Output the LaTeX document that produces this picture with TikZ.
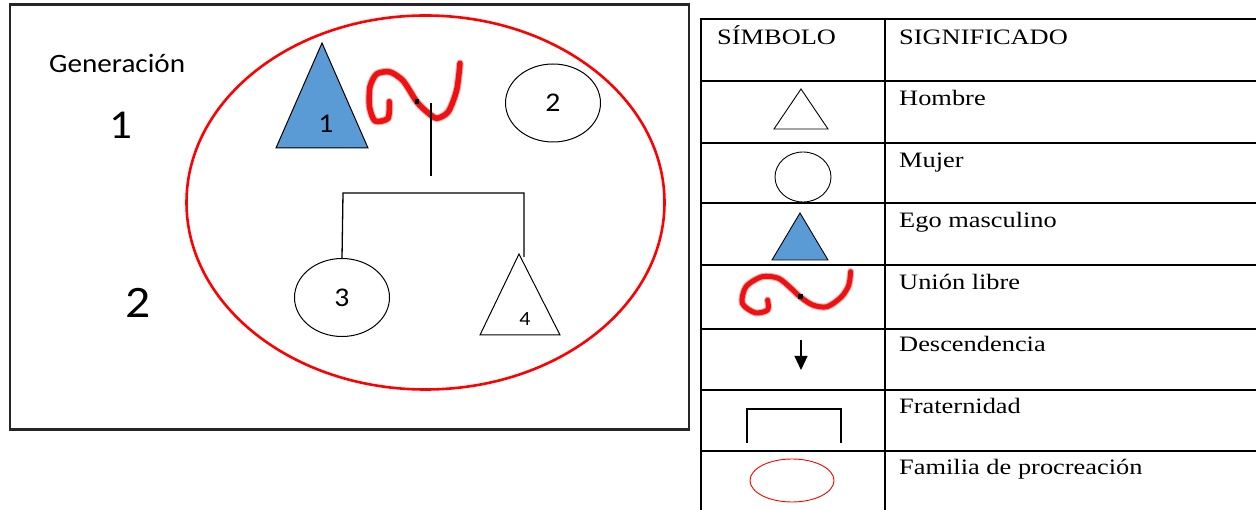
\documentclass[tikz,border=0pt]{standalone}
\usepackage{fontspec}
\setmainfont[FakeStretch=1.2]{Liberation Serif}
\newfontfamily\calfont[FakeStretch=1.1]{Carlito}
\usetikzlibrary{shapes.geometric,arrows.meta}
\definecolor{egoblue}{HTML}{5B9BD5}
\definecolor{famred}{HTML}{EE1111}
\tikzset{
  thinline/.style={line width=1.3pt, draw=black},
  shapeline/.style={line width=1pt, draw=black},
  tabline/.style={line width=2.5pt, draw=black},
  squig/.style={line width=5.5pt, draw=famred, line cap=round, line join=round},
  squighalo/.style={line width=7.5pt, draw=famred!35, line cap=round, line join=round},
  calnum/.style={font=\calfont\fontsize{27}{30}\selectfont, inner sep=0pt},
  tabtext/.style={font=\fontsize{22}{26}\selectfont, anchor=base west, inner sep=0pt},
  woman/.style={ellipse, draw, shapeline, inner sep=0pt, font=\calfont\fontsize{27}{30}\selectfont},
}
\begin{document}
\begin{tikzpicture}[x=1pt,y=-1pt]
\useasboundingbox (0,0) rectangle (1256,510);
\fill[white] (0,0) rectangle (1256,510);

% ---------- left diagram ----------
\draw[line width=2.5pt, draw=black!85] (10,4.5) rectangle (689,429.5);
\draw[line width=2.6pt, draw=red] (425.5,202.5) ellipse [x radius=239pt, y radius=187pt];

\node[font=\calfont\fontsize{26.5}{30}\selectfont, anchor=base west, inner sep=0pt] (gen) at (49,72.5) {Generación};
\node[font=\calfont\fontsize{41}{45}\selectfont, anchor=base, inner sep=0pt] (g1) at (121,139) {1};
\node[font=\calfont\fontsize{45}{50}\selectfont, anchor=base, inner sep=0pt] (g2) at (138,318) {2};

% ego (blue triangle)
\coordinate (egoA) at (322,43);
\coordinate (egoL) at (276,148);
\coordinate (egoR) at (368,148);
\filldraw[shapeline, fill=egoblue] (egoA) -- (egoL) -- (egoR) -- cycle;
\node[calnum, anchor=base] (n1) at (326,133) {1};

% union libre squiggle
\draw[squighalo] plot[smooth, tension=0.45] coordinates {(389.3,101.7) (388,118.3) (375,121) (369.5,106.7) (370,86.7) (376.7,74) (390,72) (403.3,81) (416.7,101.7) (426.7,111.7) (436.7,118.3) (448.3,111.7) (456.7,90) (460,63.3)};
\draw[squig] plot[smooth, tension=0.45] coordinates {(389.3,101.7) (388,118.3) (375,121) (369.5,106.7) (370,86.7) (376.7,74) (390,72) (403.3,81) (416.7,101.7) (426.7,111.7) (436.7,118.3) (448.3,111.7) (456.7,90) (460,63.3)};
\fill[black] (414.5,99.5) rectangle (419,104);

% woman 2
\node[woman, minimum width=95pt, minimum height=78pt] (w2) at (553,103) {2};

% descent line
\coordinate (dtop) at (431,103);
\coordinate (dbot) at (431,176);
\draw[thinline] (dtop) -- (dbot);

% child 3 (woman)
\node[woman, minimum width=95pt, minimum height=78pt] (w3) at (342,297.5) {3};

% child 4 (man)
\coordinate (m4A) at (519,254);
\coordinate (m4L) at (480,335);
\coordinate (m4R) at (560,335);
\draw[shapeline] (m4A) -- (m4L) -- (m4R) -- cycle;
\node[calnum, font=\calfont\fontsize{20}{24}\selectfont, anchor=base] (n4) at (525,326) {4};

% sibling bracket
\coordinate (sibL) at (343,193);
\coordinate (sibR) at (524,193);
\coordinate (leg4) at (524,257);
\draw[thinline] (w3.north) -- (sibL) -- (sibR) -- (leg4);

% ---------- legend table ----------
\foreach \yy in {19,81,143,203,265,329,390,451} {
  \draw[tabline] (701,\yy) -- (1258,\yy);
}
\draw[tabline] (701,17.75) -- (701,512);
\draw[tabline] (885,17.75) -- (885,512);

\node[tabtext] (h1) at (717,45) {SÍMBOLO};
\node[tabtext] (h2) at (899,45) {SIGNIFICADO};
\node[tabtext] (t1) at (899,106) {Hombre};
\node[tabtext] (t2) at (899,168) {Mujer};
\node[tabtext] (t3) at (899,228) {Ego masculino};
\node[tabtext] (t4) at (899,290) {Unión libre};
\node[tabtext] (t5) at (899,352) {Descendencia};
\node[tabtext] (t6) at (899,414) {Fraternidad};
\node[tabtext] (t7) at (899,475) {Familia de procreación};

% Hombre symbol
\draw[shapeline, line width=0.9pt] (801,89) -- (774,129) -- (828,129) -- cycle;
% Mujer symbol
\node[ellipse, draw=black, line width=0.9pt, minimum width=56pt, minimum height=50pt, inner sep=0pt] (lw) at (803,177) {};
% Ego masculino symbol
\filldraw[shapeline, line width=0.9pt, fill=egoblue] (800,213) -- (772,260) -- (828,260) -- cycle;
% Union libre symbol
\draw[squighalo, line width=7pt] plot[smooth, tension=0.5] coordinates {(767.6,300) (767.6,310) (755,312.7) (742.3,303.3) (746,286.7) (762.2,276.7) (778.4,278.3) (791,288.3) (800,296.7) (812.7,305) (827.2,306.7) (841.6,296.7) (848.8,285) (850.6,271.7)};
\draw[squig, line width=5pt] plot[smooth, tension=0.5] coordinates {(767.6,300) (767.6,310) (755,312.7) (742.3,303.3) (746,286.7) (762.2,276.7) (778.4,278.3) (791,288.3) (800,296.7) (812.7,305) (827.2,306.7) (841.6,296.7) (848.8,285) (850.6,271.7)};
\fill[black] (798,294.5) rectangle (802.5,299);
% Descendencia symbol
\coordinate (arT) at (801,340);
\coordinate (arB) at (801,370);
\draw[line width=1.2pt, draw=black, fill=black, -{Triangle[length=14pt,width=13pt]}] (arT) -- (arB);
% Fraternidad symbol
\coordinate (frL) at (747,443);
\coordinate (frR) at (841,443);
\draw[line width=1.1pt, draw=black] (frL) -- (747,409) -- (841,409) -- (frR);
% Familia de procreacion symbol
\draw[line width=0.9pt, draw=red] (792,480.5) ellipse [x radius=42pt, y radius=21.5pt];
\end{tikzpicture}
\end{document}
